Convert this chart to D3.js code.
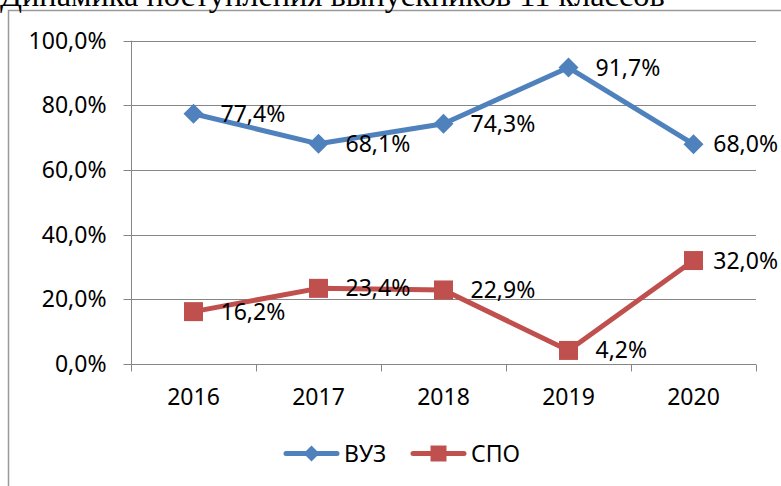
<html>
<head>
<meta charset="utf-8">
<script src="https://d3js.org/d3.v7.min.js"></script>
<style>
    body { margin: 0; background: #fff; }
    svg { display: block; }
    .grid line { stroke: #868686; stroke-width: 1px; }
    .axis path, .axis line { stroke: #868686; stroke-width: 1px; }
    .axis text, .lbl, .legend text {
        font-family: "Noto Sans", sans-serif;
        font-size: 23px;
        fill: #000;
    }
</style>
</head>
<body>
<svg id="the-chart" width="781" height="486"></svg>

<script>
    // data
    var years = ['2016', '2017', '2018', '2019', '2020'];
    var vuz = [77.4, 68.1, 74.3, 91.7, 68.0];
    var spo = [16.2, 23.4, 22.9, 4.2, 32.0];
    var yTicks = [0, 20, 40, 60, 80, 100];
    var seriesNames = ['ВУЗ', 'СПО'];
    var title = 'Динамика поступления выпускников 11 классов';

    var blue = '#4f81bd', red = '#c0504d';

    var ru = d3.formatLocale({ decimal: ',', thousands: ' ', grouping: [3], currency: ['', ''] });
    var pct = function(v) { return ru.format('.1f')(v) + '%'; };

    var svg = d3.select('#the-chart');

    // chart frame
    svg.append('rect')
        .attr('x', 8.5).attr('y', 10.5)
        .attr('width', 800).attr('height', 500)
        .attr('fill', '#fff')
        .attr('stroke', '#9a9a9a')
        .attr('stroke-width', 1.5);

    // title (cut off at the top like in the document)
    var t = svg.append('text')
        .attr('x', 0).attr('y', 6)
        .style('font-family', '"Liberation Serif", "Times New Roman", serif')
        .style('font-size', '24px')
        .text(title);
    var tw = t.node().getComputedTextLength();
    t.style('font-size', (24 * 665 / tw) + 'px');

    var x = d3.scaleBand().domain(years).range([131, 756]);
    var y = d3.scaleLinear().domain([0, 100]).range([364, 40.7]);

    // gridlines
    svg.append('g').attr('class', 'grid')
        .selectAll('line').data(yTicks.slice(1)).enter()
        .append('line')
        .attr('x1', 131).attr('x2', 756)
        .attr('y1', function(d) { return Math.round(y(d)) + 0.5; })
        .attr('y2', function(d) { return Math.round(y(d)) + 0.5; });

    // y axis
    var yAxis = svg.append('g').attr('class', 'axis')
        .attr('transform', 'translate(131.5,0)')
        .call(d3.axisLeft(y).tickValues(yTicks).tickFormat(pct)
            .tickSize(8).tickSizeOuter(0).tickPadding(17));
    yAxis.select('.domain').attr('d', 'M0,' + y(100) + 'V371');
    yAxis.selectAll('.tick').attr('transform', function(d) {
        return 'translate(0,' + (Math.round(y(d)) + 0.5) + ')';
    });

    // x axis
    var xAxis = svg.append('g').attr('class', 'axis')
        .attr('transform', 'translate(0,364.5)')
        .call(d3.axisBottom(x).tickSize(0).tickSizeOuter(0).tickPadding(24));
    xAxis.select('.domain').attr('d', 'M131,0H756');
    xAxis.selectAll('.bound').data(years.map(function(d) { return x(d); }).concat([x.range()[1]]))
        .enter().append('line').attr('class', 'bound')
        .attr('x1', function(d) { return Math.round(d) + 0.5; })
        .attr('x2', function(d) { return Math.round(d) + 0.5; })
        .attr('y1', 0).attr('y2', 7);

    var cx = function(d, i) { return x(years[i]) + x.bandwidth() / 2; };
    var line = d3.line().x(cx).y(function(d) { return y(d); });

    function drawSeries(data, color, marker) {
        var g = svg.append('g');
        g.append('path').datum(data)
            .attr('d', line)
            .attr('fill', 'none')
            .attr('stroke', color)
            .attr('stroke-width', 5)
            .attr('stroke-linejoin', 'round');
        g.selectAll('.m').data(data).enter()
            .append('path')
            .attr('d', marker)
            .attr('fill', color)
            .attr('transform', function(d, i) { return 'translate(' + cx(d, i) + ',' + y(d) + ')'; });
        g.selectAll('.lbl').data(data).enter()
            .append('text').attr('class', 'lbl')
            .attr('y', function(d) { return y(d) + 8; })
            .text(pct)
            .attr('x', function(d, i) {
                // keep the label inside the chart frame, like Excel does
                var w = this.getComputedTextLength();
                return Math.min(cx(d, i) + 27, 778 - w);
            });
    }

    var diamond = 'M0,-10L10,0L0,10L-10,0Z';
    var square = 'M-9.5,-9.5H9.5V9.5H-9.5Z';
    drawSeries(vuz, blue, diamond);
    drawSeries(spo, red, square);

    // legend
    var legend = svg.append('g').attr('class', 'legend');
    var items = [
        { name: seriesNames[0], color: blue, marker: 'M0,-8L8,0L0,8L-8,0Z', x: 284 },
        { name: seriesNames[1], color: red, marker: 'M-8,-8H8V8H-8Z', x: 411 }
    ];
    items.forEach(function(it) {
        legend.append('line')
            .attr('x1', it.x + 2).attr('x2', it.x + 53)
            .attr('y1', 453.5).attr('y2', 453.5)
            .attr('stroke', it.color).attr('stroke-width', 5)
            .attr('stroke-linecap', 'round');
        legend.append('path').attr('d', it.marker)
            .attr('fill', it.color)
            .attr('transform', 'translate(' + (it.x + 27.5) + ',453.5)');
        legend.append('text')
            .attr('x', it.x + 60).attr('y', 462)
            .text(it.name);
    });
</script>
</body>
</html>
